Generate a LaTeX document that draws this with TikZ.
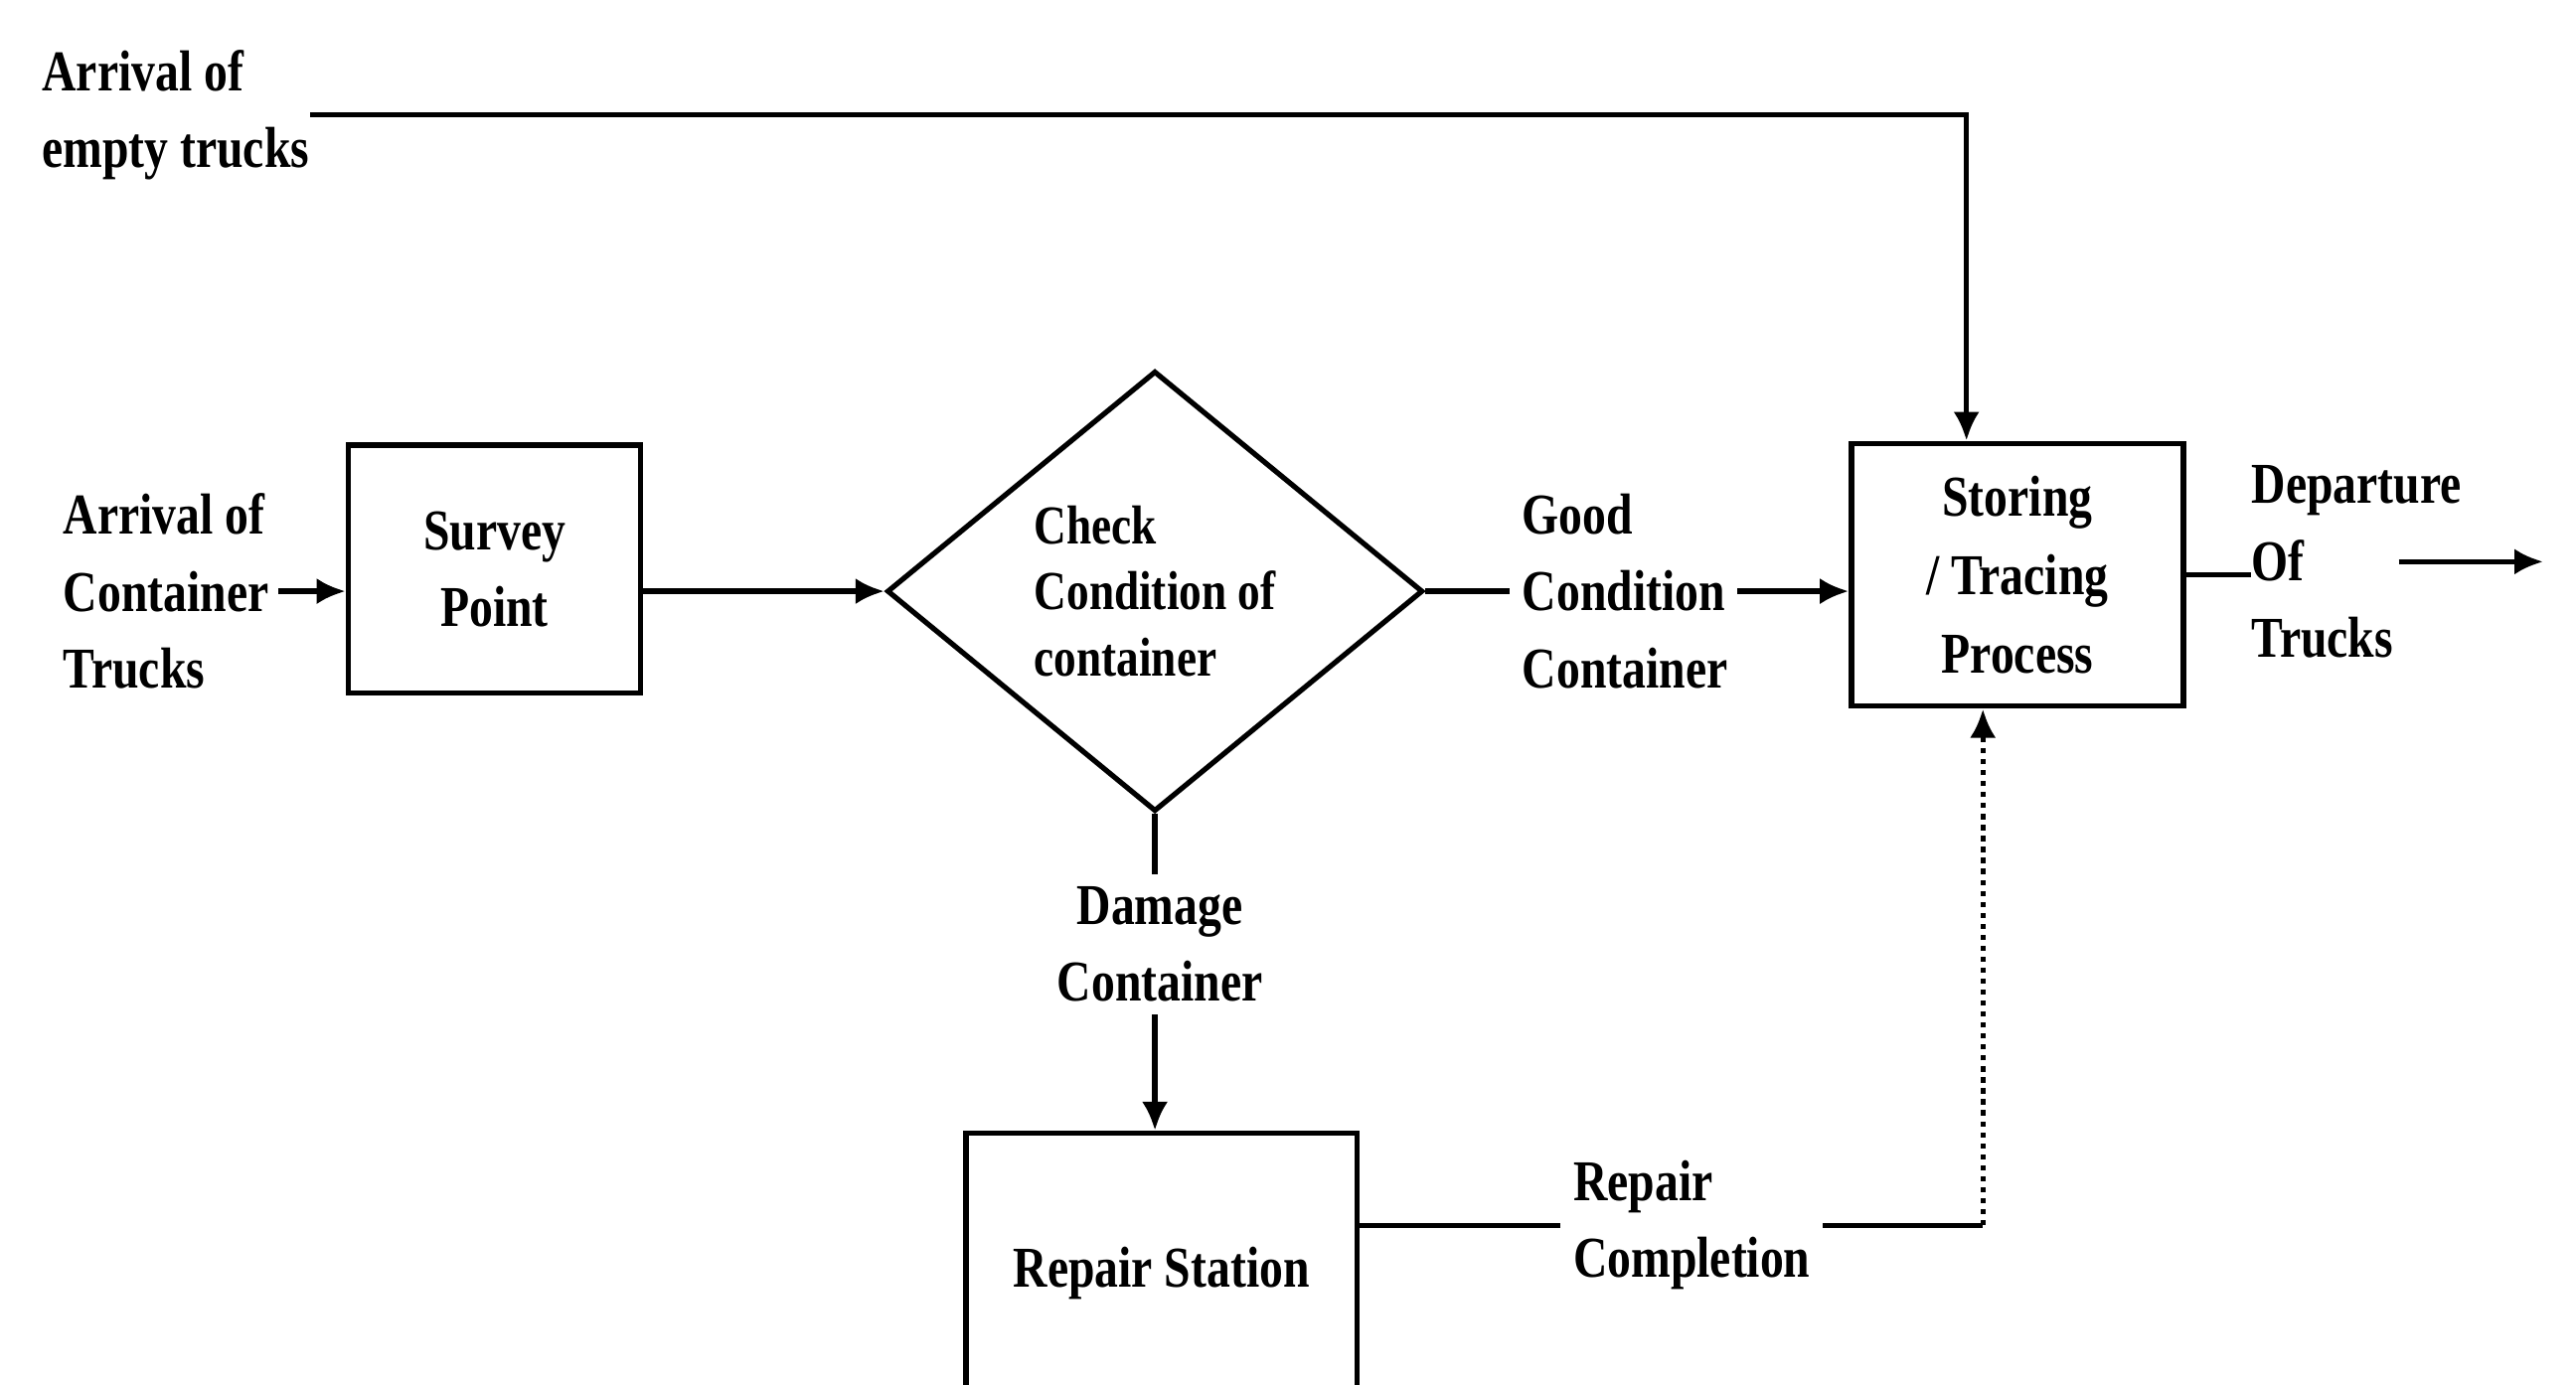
\documentclass[tikz,border=0pt]{standalone}
\usepackage{fontspec}
\setmainfont{Liberation Serif}[FakeStretch=0.82]
\usetikzlibrary{arrows.meta,shapes.geometric,calc}
\begin{document}
\begin{tikzpicture}[x=0.01cm,y=-0.01cm,
  every node/.style={font=\bfseries\fontsize{10}{13.3}\selectfont},
  box/.style={draw,line width=0.9pt,rectangle,inner sep=0pt,align=center},
  lbl/.style={align=left,inner sep=0pt},
  conn/.style={line width=0.9pt},
  arr/.style={conn,-{Latex[length=5pt,width=4.5pt]}},
]
\clip (0,0) rectangle (1568,843);
\fill[white] (0,0) rectangle (1568,843);

% boxes
\node[box,minimum width=1.78cm,minimum height=1.51cm] (survey) at (301,346.5) {Survey\\Point};
\node[draw,diamond,line width=0.9pt,minimum width=3.26cm,minimum height=2.68cm,inner sep=0pt,align=left,font=\bfseries\fontsize{9.5}{11.4}\selectfont] (check) at (703,360) {Check\\Condition of\\container};
\node[box,minimum width=2.02cm,minimum height=1.60cm,font=\bfseries\fontsize{10}{13.6}\selectfont] (store) at (1228,350) {Storing\\/ Tracing\\Process};
\node[box,minimum width=2.38cm,minimum height=1.70cm] (repair) at (707,775) {Repair Station};

% labels
\node[lbl,anchor=west] (arrE) at (25,70) {Arrival of\\empty trucks};
\node[lbl,anchor=west] (arrC) at (38,360) {Arrival of\\Container\\Trucks};
\node[lbl,anchor=west] (good) at (926,360) {Good\\Condition\\Container};
\node[lbl,anchor=west] (dep) at (1370,342) {Departure\\Of\\Trucks};
\node[lbl,align=center] (dmg) at (706,575) {Damage\\Container};
\node[lbl,anchor=west] (rc) at (957,746) {Repair\\Completion};

% connectors
\draw[arr,shorten <=1.5pt] (arrC.east) -- (arrC.east -| survey.west);
\draw[arr] (check.west -| survey.east) -- (check.west);
\draw[conn,shorten >=2pt] (check.east) -- (good.west);
\draw[arr,shorten <=1.5pt] (good.east) -- (good.east -| store.west);
\coordinate (topin) at ([xshift=-0.31cm]store.north);
\draw[arr] (arrE.east) -| (topin);
\draw[conn] (store.east) -- (store.east -| dep.west);
\coordinate (depA) at ([xshift=0.9cm]dep.west);
\coordinate (depB) at ([xshift=0.88cm]depA);
\draw[arr] (depA) -- (depB);
\draw[conn,shorten >=2pt] (check.south) -- (check.south |- dmg.north);
\draw[arr,shorten <=2pt] (check.south |- dmg.south) -- (check.south |- repair.north);
\draw[conn,shorten >=2pt] (rc.west -| repair.east) -- (rc.west);
\coordinate (sb) at ([xshift=-0.21cm]store.south);
\coordinate (rcc) at (sb |- rc.east);
\draw[conn,shorten <=2pt] (rc.east) -- (rcc);
\draw[arr,densely dotted] (rcc) -- (sb);
\end{tikzpicture}
\end{document}
